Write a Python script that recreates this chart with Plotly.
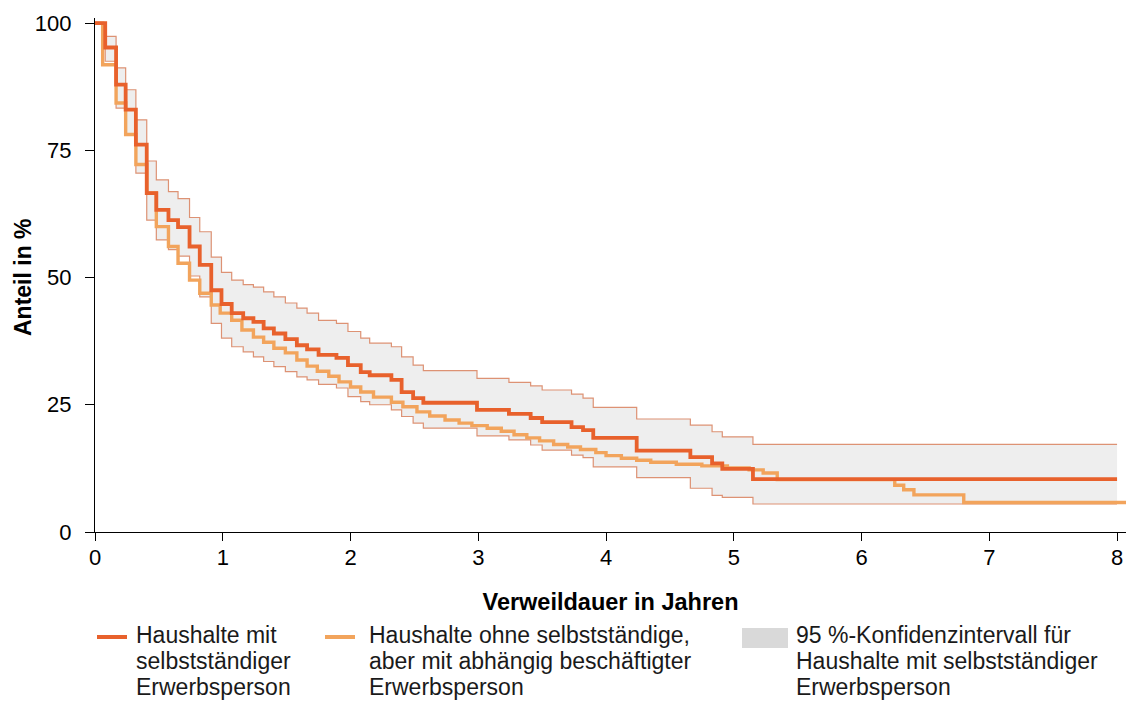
import plotly.graph_objects as go

# ---- data ----
# Kaplan-Meier: Haushalte mit selbstständiger Erwerbsperson
t_self = [0, 0.08, 0.165, 0.24, 0.32, 0.405, 0.48, 0.575, 0.65, 0.74, 0.82, 0.91, 0.99, 1.07, 1.16,
          1.24, 1.32, 1.40, 1.49, 1.58, 1.66, 1.75, 1.89, 1.98, 2.08, 2.15, 2.32, 2.40, 2.49, 2.57,
          2.99, 3.24, 3.41, 3.50, 3.73, 3.82, 3.90, 4.24, 4.66, 4.83, 4.91, 5.15, 8.0]
s_self = [100, 95.2, 87.9, 83.0, 76.1, 66.6, 63.3, 61.3, 59.9, 56.1, 52.5, 47.5, 44.8, 43.0, 42.0,
          41.3, 40.0, 39.0, 37.9, 36.7, 35.9, 34.8, 34.2, 32.8, 31.4, 30.8, 29.9, 27.5, 26.3, 25.4,
          24.0, 23.2, 22.4, 21.6, 20.6, 20.0, 18.5, 16.0, 14.7, 13.5, 12.4, 10.4, 10.4]
ci_upper = [100, 97.4, 91.2, 86.9, 81.0, 72.9, 69.2, 66.9, 65.5, 61.8, 59.0, 54.0, 51.0, 49.5, 48.6,
            48.1, 47.2, 46.2, 45.0, 44.0, 43.0, 41.6, 41.0, 39.4, 38.1, 37.1, 36.4, 34.4, 32.8, 31.7,
            30.2, 29.4, 28.7, 27.9, 27.1, 26.3, 24.5, 22.2, 21.0, 19.7, 18.7, 17.2, 17.2]
ci_lower = [100, 92.5, 83.3, 78.0, 70.5, 61.3, 57.4, 55.5, 54.2, 50.3, 46.2, 41.0, 38.1, 36.4, 35.4,
            34.4, 33.5, 32.5, 31.5, 30.5, 29.9, 29.0, 28.3, 26.6, 25.6, 25.0, 24.0, 22.7, 21.4, 20.4,
            18.9, 18.1, 17.1, 16.1, 15.1, 14.6, 12.8, 10.7, 8.6, 7.2, 6.8, 5.5, 5.5]

# Kaplan-Meier: Haushalte ohne selbstständige, aber mit abhängig beschäftigter Erwerbsperson
t_dep = [0, 0.06, 0.165, 0.24, 0.32, 0.405, 0.48, 0.575, 0.65, 0.74, 0.82, 0.91, 0.98, 1.07, 1.15,
         1.24, 1.32, 1.40, 1.49, 1.58, 1.66, 1.74, 1.83, 1.91, 2.00, 2.08, 2.18, 2.32, 2.41, 2.52,
         2.62, 2.74, 2.85, 2.95, 3.07, 3.18, 3.28, 3.38, 3.48, 3.59, 3.70, 3.80, 3.92, 4.00, 4.12,
         4.24, 4.35, 4.55, 4.75, 4.95, 5.12, 5.23, 5.34, 6.26, 6.33, 6.41, 6.80, 8.07]
s_dep = [100, 91.8, 84.3, 78.1, 72.2, 66.6, 60.0, 56.1, 52.8, 49.5, 46.9, 44.6, 43.0, 41.6, 39.7,
         38.3, 37.3, 36.1, 35.2, 33.8, 32.6, 31.6, 30.6, 29.5, 28.5, 27.5, 26.5, 25.5, 24.6, 23.6,
         22.8, 22.0, 21.4, 20.9, 20.4, 19.8, 19.1, 18.5, 17.9, 17.2, 16.7, 16.2, 15.6, 15.0, 14.5,
         14.1, 13.7, 13.3, 13.0, 12.6, 12.2, 11.6, 10.3, 9.2, 8.3, 7.3, 5.8, 5.8]

x_ticks = [0, 1, 2, 3, 4, 5, 6, 7, 8]
y_ticks = [0, 25, 50, 75, 100]

label_self = ["Haushalte mit", "selbstständiger", "Erwerbsperson"]
label_dep = ["Haushalte ohne selbstständige,", "aber mit abhängig beschäftigter", "Erwerbsperson"]
label_ci = ["95 %-Konfidenzintervall für", "Haushalte mit selbstständiger", "Erwerbsperson"]

C_SELF = "#E8612C"
C_DEP = "#F2A45C"
C_CI = "#DD9274"
C_FILL = "#EEEEEE"
C_BOX = "#D9D9D9"
FONT = "Liberation Sans, Arial, sans-serif"

fig = go.Figure()
fig.add_trace(go.Scatter(x=t_self, y=ci_upper, mode="lines", line=dict(color=C_CI, width=1.2, shape="hv"),
                         showlegend=False, hoverinfo="skip"))
fig.add_trace(go.Scatter(x=t_self, y=ci_lower, mode="lines", line=dict(color=C_CI, width=1.2, shape="hv"),
                         fill="tonexty", fillcolor=C_FILL, showlegend=False, hoverinfo="skip"))
fig.add_trace(go.Scatter(x=t_dep, y=s_dep, mode="lines", line=dict(color=C_DEP, width=3.4, shape="hv"),
                         showlegend=False))
fig.add_trace(go.Scatter(x=t_self, y=s_self, mode="lines", line=dict(color=C_SELF, width=3.8, shape="hv"),
                         showlegend=False))

# plot area: x 95..1126, y 18..532 (pixels)
L, R, T, B = 95, 0, 18, 169
W, H = 1126 - L - R, 701 - T - B


def px(x):
    return (x - L) / W


def py(y):
    return (701 - B - y) / H


shapes = [
    dict(type="line", xref="paper", yref="paper", x0=px(97), x1=px(127), y0=py(637), y1=py(637),
         line=dict(color=C_SELF, width=4)),
    dict(type="line", xref="paper", yref="paper", x0=px(325), x1=px(355), y0=py(637), y1=py(637),
         line=dict(color=C_DEP, width=4)),
    dict(type="rect", xref="paper", yref="paper", x0=px(742), x1=px(788), y0=py(648), y1=py(628),
         fillcolor=C_BOX, line=dict(width=0)),
]
annotations = []
for xl, lines in [(137, label_self), (370, label_dep), (797, label_ci)]:
    for i, txt in enumerate(lines):
        annotations.append(dict(xref="paper", yref="paper", x=px(xl - 2), y=py(635 + 26 * i), text=txt,
                                showarrow=False, xanchor="left", yanchor="middle", align="left",
                                borderpad=0,
                                font=dict(family=FONT, size=23, color="#1a1a1a")))
# y-axis title
annotations.append(dict(xref="paper", yref="paper", x=px(23), y=py(277), text="<b>Anteil in %</b>",
                        textangle=-90, showarrow=False, xanchor="center", yanchor="middle",
                        font=dict(family=FONT, size=23, color="#000000")))

fig.update_layout(
    width=1126, height=701,
    margin=dict(l=L, r=R, t=T, b=B),
    paper_bgcolor="white", plot_bgcolor="white",
    font=dict(family=FONT, size=22, color="#000000"),
    shapes=shapes, annotations=annotations,
    xaxis=dict(range=[0, 8.07], tickvals=x_ticks, ticktext=[str(v) for v in x_ticks],
               showline=True, linecolor="black", linewidth=1.2, ticks="outside", ticklen=8,
               tickcolor="black", showgrid=False, zeroline=False, ticklabelstandoff=-3,
               title=dict(text="<b>Verweildauer in Jahren</b>", font=dict(size=23.5), standoff=25)),
    yaxis=dict(range=[0, 101], tickvals=y_ticks, ticktext=[str(v) for v in y_ticks],
               showline=True, linecolor="black", linewidth=1.2, ticks="outside", ticklen=9,
               tickcolor="black", showgrid=False, zeroline=False, ticklabelstandoff=9),
)

fig.write_html("out.html", config={"displayModeBar": False},
               post_script="document.body.style.margin='0px';")
